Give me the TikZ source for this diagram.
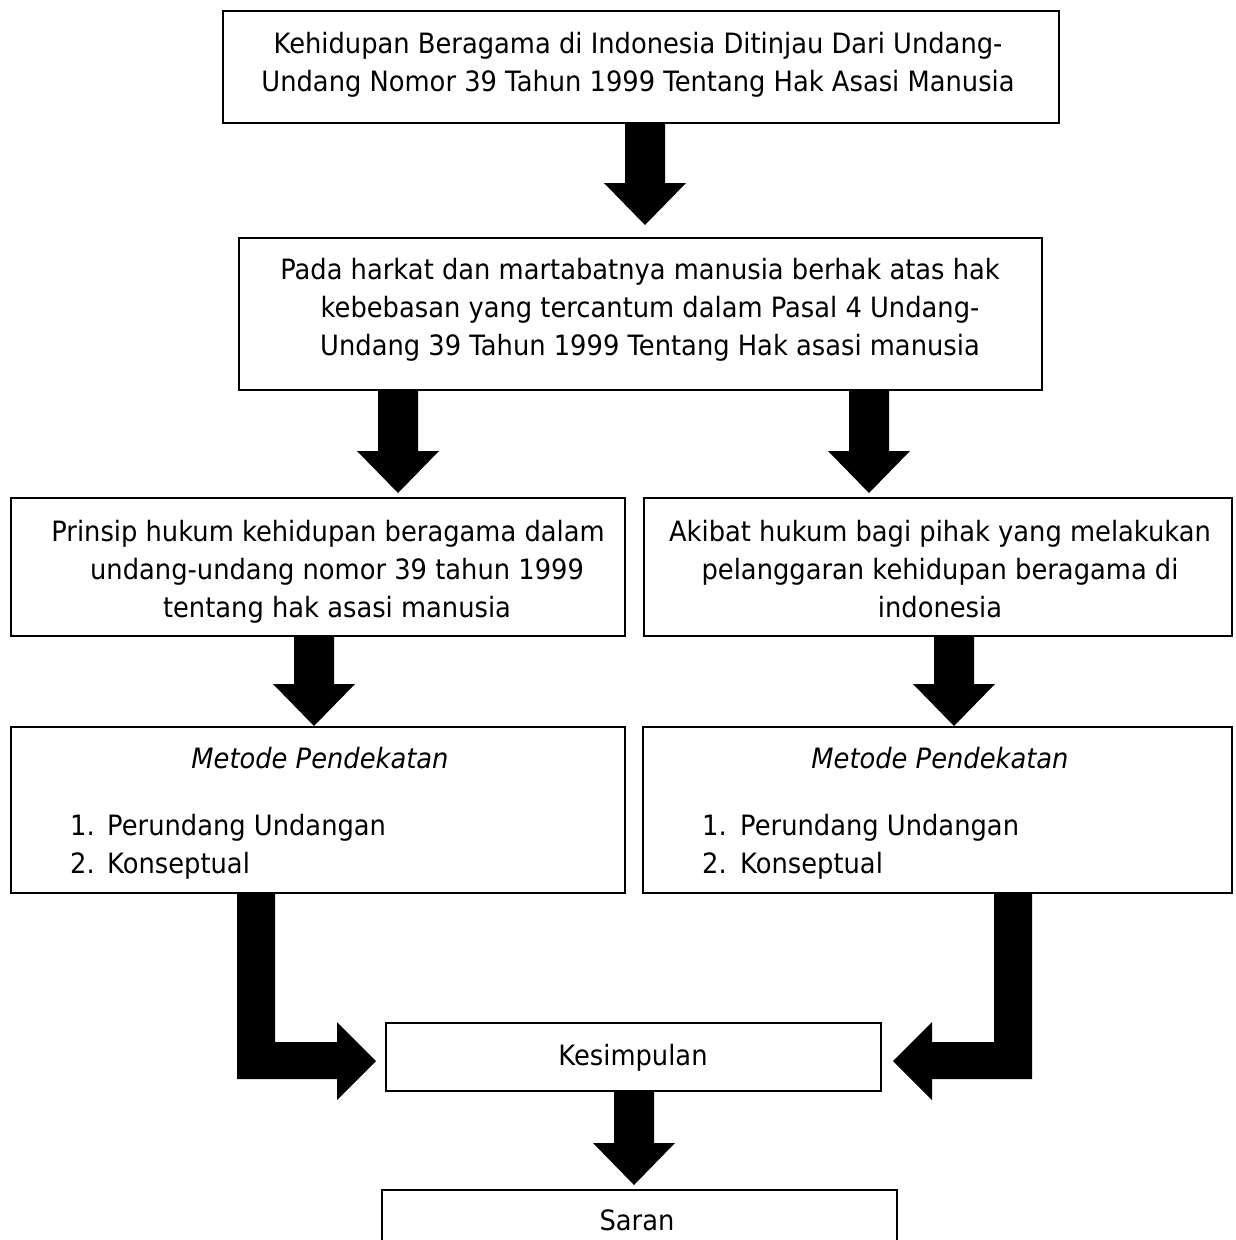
\documentclass[tikz,border=0pt]{standalone}
\usepackage{fontspec}
\setmainfont{DejaVu Sans}[FakeStretch=0.92]
\usetikzlibrary{calc}
\newcommand\blkdown[4]{%
  \path (#1,0 |- #2.south) coordinate (bs)
        (#1,0 |- #3.north) ++(0,-#4) coordinate (bt) ++(0,-42) coordinate (bh);
  \fill[arrowfill] ($(bs)+(-20,0)$) -- ($(bs)+(20,0)$) -- ($(bh)+(20,0)$) -- ($(bh)+(41,0)$)
     -- (bt) -- ($(bh)+(-41,0)$) -- ($(bh)+(-20,0)$) -- cycle;}
\begin{document}
\begin{tikzpicture}[x=1pt,y=-1pt,
  box/.style={draw=black, line width=2pt, inner sep=0pt, outer sep=0pt, anchor=north west},
  txt/.style={inner sep=0pt, align=center, font=\fontsize{28}{38}\selectfont},
  itm/.style={inner sep=0pt, anchor=base west, font=\fontsize{28}{38}\selectfont},
  arrowfill/.style={fill=black}]
\clip (0,0) rectangle (1235,1240);
\fill[white] (0,0) rectangle (1235,1240);
% boxes
\node[box, minimum width=836pt, minimum height=112pt] (top) at (223,11) {};
\node[box, minimum width=803pt, minimum height=152pt] (b2) at (239,238) {};
\node[box, minimum width=614pt, minimum height=138pt] (b3L) at (11,498) {};
\node[box, minimum width=588pt, minimum height=138pt] (b3R) at (644,498) {};
\node[box, minimum width=614pt, minimum height=166pt] (b4L) at (11,727) {};
\node[box, minimum width=589pt, minimum height=166pt] (b4R) at (643,727) {};
\node[box, minimum width=495pt, minimum height=68pt] (kes) at (386,1023) {};
\node[box, minimum width=515pt, minimum height=64pt] (saran) at (382,1190) {};
% texts
\node[txt] (ttop) at (638,65) {\strut Kehidupan Beragama di Indonesia Ditinjau Dari Undang-\\\strut Undang Nomor 39 Tahun 1999 Tentang Hak Asasi Manusia};
\node[txt] (tb2) at (640,310) {\strut Pada harkat dan martabatnya manusia berhak atas hak\\\hspace*{20pt}\strut kebebasan yang tercantum dalam Pasal 4 Undang-\\\hspace*{20pt}\strut Undang 39 Tahun 1999 Tentang Hak asasi manusia};
\node[txt] (tb3L) at (328,571.5) {\strut Prinsip hukum kehidupan beragama dalam\\\hspace*{18pt}\strut undang-undang nomor 39 tahun 1999\\\hspace*{18pt}\strut tentang hak asasi manusia};
\node[txt] (tb3R) at (940,571.5) {\strut Akibat hukum bagi pihak yang melakukan\\\strut pelanggaran kehidupan beragama di\\\strut indonesia};
\node[txt] (mL) at (320,760.5) {\strut\itshape Metode Pendekatan};
\node[txt] (mR) at (940,760.5) {\strut\itshape Metode Pendekatan};
\node[itm] (nL1) at (70,835) {1.};
\node[itm] (iL1) at (107,835) {Perundang Undangan};
\node[itm] (nL2) at (70,873) {2.};
\node[itm] (iL2) at (107,873) {Konseptual};
\node[itm] (nR1) at (702,835) {1.};
\node[itm] (iR1) at (740,835) {Perundang Undangan};
\node[itm] (nR2) at (702,873) {2.};
\node[itm] (iR2) at (740,873) {Konseptual};
\node[txt] (tkes) at (633,1057.5) {\strut Kesimpulan};
\node[txt] (tsaran) at (637,1222.5) {\strut Saran};
% block arrows
\blkdown{645}{top}{b2}{13}
\blkdown{398}{b2}{b3L}{5}
\blkdown{869}{b2}{b3R}{5}
\blkdown{314}{b3L}{b4L}{1}
\blkdown{954}{b3R}{b4R}{1}
\blkdown{634}{kes}{saran}{5}
% L-shaped arrows into Kesimpulan
\path (kes.west) ++(-10,4) coordinate (lt);
\fill[arrowfill] (237,0 |- b4L.south) -- (275,0 |- b4L.south) -- ($(lt)+(-101,-19)$)
  -- ($(lt)+(-39,-19)$) -- ($(lt)+(-39,-39)$) -- (lt) -- ($(lt)+(-39,39)$)
  -- ($(lt)+(-39,18)$) -- ($(lt)+(-139,18)$) -- cycle;
\path (kes.east) ++(12,4) coordinate (rt);
\fill[arrowfill] (1032,0 |- b4R.south) -- ($(rt)+(139,18)$) -- ($(rt)+(39,18)$)
  -- ($(rt)+(39,39)$) -- (rt) -- ($(rt)+(39,-39)$) -- ($(rt)+(39,-19)$)
  -- ($(rt)+(101,-19)$) -- (994,0 |- b4R.south) -- cycle;
\end{tikzpicture}
\end{document}
